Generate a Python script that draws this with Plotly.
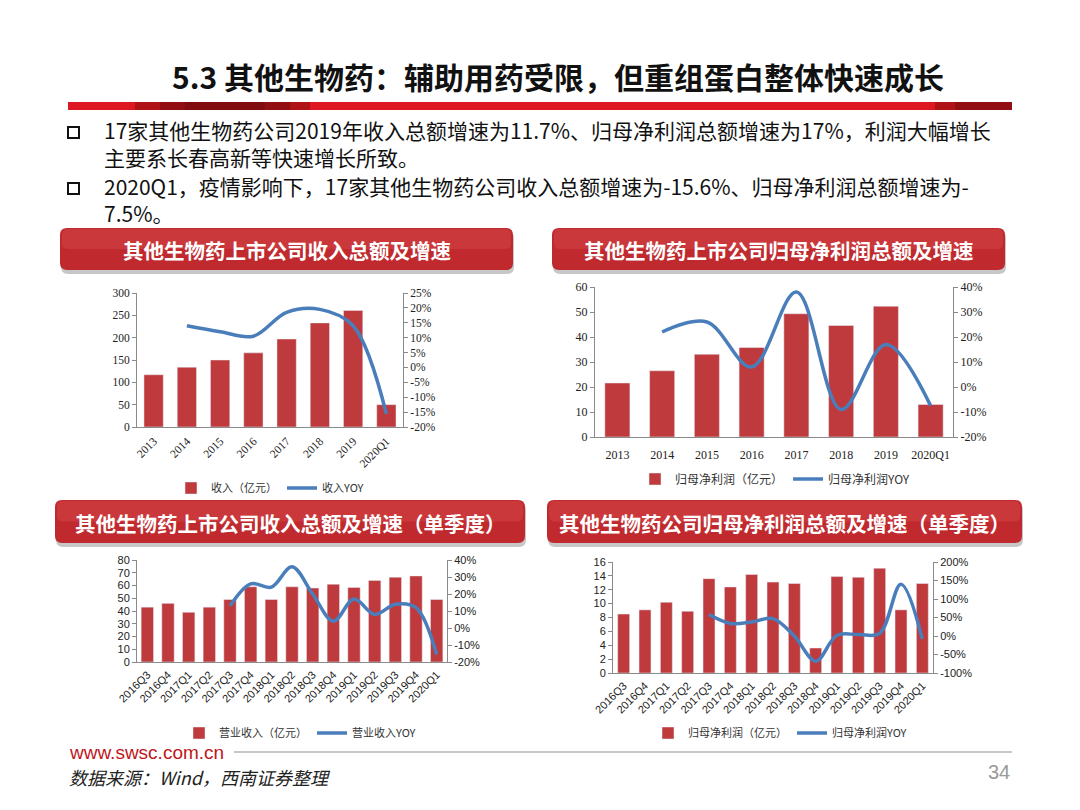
import plotly.graph_objects as go

W, H = 1080, 810

# ---------------- data ----------------
years = ["2013", "2014", "2015", "2016", "2017", "2018", "2019", "2020Q1"]
revenue_annual = [117, 134, 150, 166, 197, 233, 261, 50]
revenue_annual_yoy = [None, 14, 12, 10.5, 18.5, 19.5, 14, -15.6]
profit_annual = [21.6, 26.5, 33.1, 35.8, 49.3, 44.6, 52.3, 13]
profit_annual_yoy = [None, 22, 26, 8, 38, -9, 17, -7.5]

quarters = ["2016Q3", "2016Q4", "2017Q1", "2017Q2", "2017Q3", "2017Q4", "2018Q1", "2018Q2",
            "2018Q3", "2018Q4", "2019Q1", "2019Q2", "2019Q3", "2019Q4", "2020Q1"]
revenue_q = [43, 46, 39, 43, 49, 59, 49, 59, 58, 61, 58.5, 64, 66.5, 67.5, 49]
revenue_q_yoy = [None, None, None, None, 13, 26, 24, 36, 20, 4, 17, 8, 14, 12, -15.6]
profit_q = [8.5, 9.1, 10.2, 8.9, 13.6, 12.4, 14.2, 13.1, 12.9, 3.6, 13.9, 13.8, 15.1, 9.1, 12.9]
profit_q_yoy = [None, None, None, None, 58, 34, 38, 47, 0, -68, 2, 4, 7, 140, -8]

c1_left_ticks = [0, 50, 100, 150, 200, 250, 300]
c1_right_ticks = [-20, -15, -10, -5, 0, 5, 10, 15, 20, 25]
c1_right_labels = ["-20%", "-15%", "-10%", "-5%", "0%", "5%", "10%", "15%", "20%", "25%"]
c2_left_ticks = [0, 10, 20, 30, 40, 50, 60]
c2_right_ticks = [-20, -10, 0, 10, 20, 30, 40]
c2_right_labels = ["-20%", "-10%", "0%", "10%", "20%", "30%", "40%"]
c3_left_ticks = [0, 10, 20, 30, 40, 50, 60, 70, 80]
c3_right_ticks = [-20, -10, 0, 10, 20, 30, 40]
c3_right_labels = ["-20%", "-10%", "0%", "10%", "20%", "30%", "40%"]
c4_left_ticks = [0, 2, 4, 6, 8, 10, 12, 14, 16]
c4_right_ticks = [-100, -50, 0, 50, 100, 150, 200]
c4_right_labels = ["-100%", "-50%", "0%", "50%", "100%", "150%", "200%"]

page_title = "5.3 其他生物药：辅助用药受限，但重组蛋白整体快速成长"
bullet_texts = [
    "17家其他生物药公司2019年收入总额增速为11.7%、归母净利润总额增速为17%，利润大幅增长"
    "<br>主要系长春高新等快速增长所致。",
    "2020Q1，疫情影响下，17家其他生物药公司收入总额增速为-15.6%、归母净利润总额增速为-"
    "<br>7.5%。",
]
chart_titles = [
    "其他生物药上市公司收入总额及增速",
    "其他生物药上市公司归母净利润总额及增速",
    "其他生物药上市公司收入总额及增速（单季度）",
    "其他生物药公司归母净利润总额及增速（单季度）",
]

# ---------------- style ----------------
BAR = "#BF3A3C"
LINE = "#4A7EBB"
AX = "#8A8A8A"
CJK = "Noto Sans CJK SC, sans-serif"
SERIF = "Liberation Serif, Noto Sans CJK SC, serif"
SANS = "Liberation Sans, Noto Sans CJK SC, sans-serif"


def fx(p):
    return p / W


def fy(p):
    return 1 - p / H


charts = [
    dict(cats=years, bars=revenue_annual, yoy=revenue_annual_yoy,
         bar_name="收入（亿元）", line_name="收入YOY",
         xd=(137, 403), yd=(293, 427),
         lrange=[0, 300], lticks=c1_left_ticks,
         rrange=[-20, 25], rticks=c1_right_ticks, rlabels=c1_right_labels,
         font=SERIF, fsize=11.5, angle=-45, bw=0.58, leg=(270, 488), lfont=11, standoff=2),
    dict(cats=years, bars=profit_annual, yoy=profit_annual_yoy,
         bar_name="归母净利润（亿元）", line_name="归母净利润YOY",
         xd=(595, 953), yd=(287, 437),
         lrange=[0, 60], lticks=c2_left_ticks,
         rrange=[-20, 40], rticks=c2_right_ticks, rlabels=c2_right_labels,
         font=SERIF, fsize=12, angle=0, bw=0.56, leg=(775, 479), lfont=12, standoff=7),
    dict(cats=quarters, bars=revenue_q, yoy=revenue_q_yoy,
         bar_name="营业收入（亿元）", line_name="营业收入YOY",
         xd=(137, 447), yd=(560, 662),
         lrange=[0, 80], lticks=c3_left_ticks,
         rrange=[-20, 40], rticks=c3_right_ticks, rlabels=c3_right_labels,
         font=SANS, fsize=11, angle=-45, bw=0.6, leg=(300, 733), lfont=11, standoff=1),
    dict(cats=quarters, bars=profit_q, yoy=profit_q_yoy,
         bar_name="归母净利润（亿元）", line_name="归母净利润YOY",
         xd=(613, 933), yd=(562, 673),
         lrange=[0, 16], lticks=c4_left_ticks,
         rrange=[-100, 200], rticks=c4_right_ticks, rlabels=c4_right_labels,
         font=SANS, fsize=11, angle=-45, bw=0.56, leg=(780, 733), lfont=11, standoff=1),
]

fig = go.Figure()
layout = dict(
    width=W, height=H, margin=dict(l=0, r=0, t=0, b=0, pad=0, autoexpand=False),
    paper_bgcolor="white", plot_bgcolor="white", showlegend=True,
)

for i, c in enumerate(charts, start=1):
    xk = "xaxis" if i == 1 else f"xaxis{i}"
    xref = "x" if i == 1 else f"x{i}"
    lid, rid = 2 * i - 1, 2 * i
    lk = "yaxis" if lid == 1 else f"yaxis{lid}"
    rk = f"yaxis{rid}"
    lref = "y" if lid == 1 else f"y{lid}"
    rref = f"y{rid}"
    legk = "legend" if i == 1 else f"legend{i}"
    tf = dict(family=c["font"], size=c["fsize"], color="#222")

    fig.add_trace(go.Bar(x=c["cats"], y=c["bars"], name=c["bar_name"], marker_color=BAR,
                         width=c["bw"], xaxis=xref, yaxis=lref, legend=legk))
    fig.add_trace(go.Scatter(x=c["cats"], y=c["yoy"], name=c["line_name"], mode="lines",
                             line=dict(color=LINE, width=3.5, shape="spline", smoothing=1.0),
                             xaxis=xref, yaxis=rref, legend=legk))

    n = len(c["cats"])
    layout[xk] = dict(domain=[fx(c["xd"][0]), fx(c["xd"][1])], anchor=lref, type="category",
                      range=[-0.5, n - 0.5], showline=True, linecolor=AX, linewidth=1,
                      ticks="", showgrid=False, zeroline=False, tickangle=c["angle"],
                      tickfont=tf, automargin=False, ticklabelstandoff=c["standoff"])
    layout[lk] = dict(domain=[fy(c["yd"][1]), fy(c["yd"][0])], anchor=xref,
                      range=c["lrange"], tickvals=c["lticks"],
                      ticktext=[str(v) for v in c["lticks"]],
                      showline=True, linecolor=AX, linewidth=1, ticks="outside", ticklen=4,
                      tickcolor=AX, showgrid=False, zeroline=False, tickfont=tf, automargin=False)
    layout[rk] = dict(overlaying=lref, side="right", anchor=xref,
                      range=c["rrange"], tickvals=c["rticks"], ticktext=c["rlabels"],
                      showline=True, linecolor=AX, linewidth=1, ticks="outside", ticklen=4,
                      tickcolor=AX, showgrid=False, zeroline=False, tickfont=tf, automargin=False)
    layout[legk] = dict(x=fx(c["leg"][0]), y=fy(c["leg"][1]), xanchor="center", yanchor="middle",
                        orientation="h", bgcolor="rgba(0,0,0,0)",
                        font=dict(family=CJK, size=c["lfont"], color="#333"),
                        itemwidth=30, tracegroupgap=0)

fig.update_layout(**layout)

shapes = []
annotations = []


def rrect_path(x0, y0, x1, y1, r):
    pts = [
        ("M", [(x0 + r, y0)]), ("L", [(x1 - r, y0)]), ("Q", [(x1, y0), (x1, y0 + r)]),
        ("L", [(x1, y1 - r)]), ("Q", [(x1, y1), (x1 - r, y1)]), ("L", [(x0 + r, y1)]),
        ("Q", [(x0, y1), (x0, y1 - r)]), ("L", [(x0, y0 + r)]), ("Q", [(x0, y0), (x0 + r, y0)]),
    ]
    s = ""
    for cmd, ps in pts:
        s += cmd + " " + " ".join(f"{fx(px):.5f},{fy(py):.5f}" for px, py in ps) + " "
    return s + "Z"


# page title
annotations.append(dict(x=fx(558), y=fy(76), xref="paper", yref="paper", showarrow=False,
                        text="<b>" + page_title + "</b>", xanchor="center", yanchor="middle",
                        font=dict(family=CJK, size=30, color="#111")))
# red rule under title
shapes.append(dict(type="rect", xref="paper", yref="paper", x0=fx(68), x1=fx(1012),
                   y0=fy(110), y1=fy(102), fillcolor="#DE1820", line=dict(width=0), layer="above"))
for (a, b, op) in [(135, 310, 0.35), (160, 290, 0.35), (185, 265, 0.3),
                   (935, 1012, 0.35), (955, 1012, 0.35)]:
    shapes.append(dict(type="rect", xref="paper", yref="paper", x0=fx(a), x1=fx(b),
                       y0=fy(110), y1=fy(102), fillcolor=f"rgba(90,10,10,{op})",
                       line=dict(width=0), layer="above"))

# bullets
for (t, b) in [(127, 138), (183, 194)]:
    shapes.append(dict(type="rect", xref="paper", yref="paper", x0=fx(68), x1=fx(79),
                       y0=fy(b), y1=fy(t), line=dict(color="#111", width=2), fillcolor="white"))
for txt, top in zip(bullet_texts, (113, 169)):
    annotations.append(dict(x=fx(102), y=fy(top), xref="paper", yref="paper", showarrow=False,
                            text=txt, xanchor="left", yanchor="top", align="left",
                            font=dict(family=CJK, size=21, color="#111")))

# chart title bars
bars_geo = [(60, 228, 513, 270), (552, 228, 1005, 270), (55, 500, 525, 543), (547, 500, 1022, 543)]
for (x0, y0, x1, y1), t in zip(bars_geo, chart_titles):
    shapes.append(dict(type="path", xref="paper", yref="paper",
                       path=rrect_path(x0 + 1, y0 + 3, x1 + 1, y1 + 4, 7),
                       fillcolor="rgba(0,0,0,0.22)", line=dict(width=0)))
    shapes.append(dict(type="path", xref="paper", yref="paper",
                       path=rrect_path(x0, y0, x1, y1, 7),
                       fillcolor="#C02A2E", line=dict(width=0)))
    shapes.append(dict(type="path", xref="paper", yref="paper",
                       path=rrect_path(x0 + 2, y0 + 1, x1 - 2, (y0 + y1) / 2, 6),
                       fillcolor="rgba(255,120,120,0.18)", line=dict(width=0)))
    annotations.append(dict(x=fx((x0 + x1) / 2), y=fy((y0 + y1) / 2 + 1), xref="paper", yref="paper",
                            showarrow=False, text="<b>" + t + "</b>", xanchor="center",
                            yanchor="middle", font=dict(family=CJK, size=20.5, color="white")))

# footer
annotations.append(dict(x=fx(67), y=fy(752), xref="paper", yref="paper", showarrow=False,
                        text="www.swsc.com.cn", xanchor="left", yanchor="middle",
                        font=dict(family="Liberation Sans Narrow, Liberation Sans, sans-serif",
                                  size=19, color="#C0161C")))
shapes.append(dict(type="line", xref="paper", yref="paper", x0=fx(234), x1=fx(1012),
                   y0=fy(752), y1=fy(752), line=dict(color="#B5B5B5", width=1.5)))
annotations.append(dict(x=fx(67), y=fy(777), xref="paper", yref="paper", showarrow=False,
                        text="<i>数据来源：Wind，西南证券整理</i>", xanchor="left", yanchor="middle",
                        font=dict(family=CJK, size=18, color="#222")))
annotations.append(dict(x=fx(1012), y=fy(772), xref="paper", yref="paper", showarrow=False,
                        text="34", xanchor="right", yanchor="middle",
                        font=dict(family="Liberation Sans Narrow, Liberation Sans, sans-serif",
                                  size=20, color="#999")))

fig.update_layout(shapes=shapes, annotations=annotations)
fig.write_html("out.html", config={"displayModeBar": False},
               post_script="document.body.style.margin='0';document.body.style.overflow='hidden';")
